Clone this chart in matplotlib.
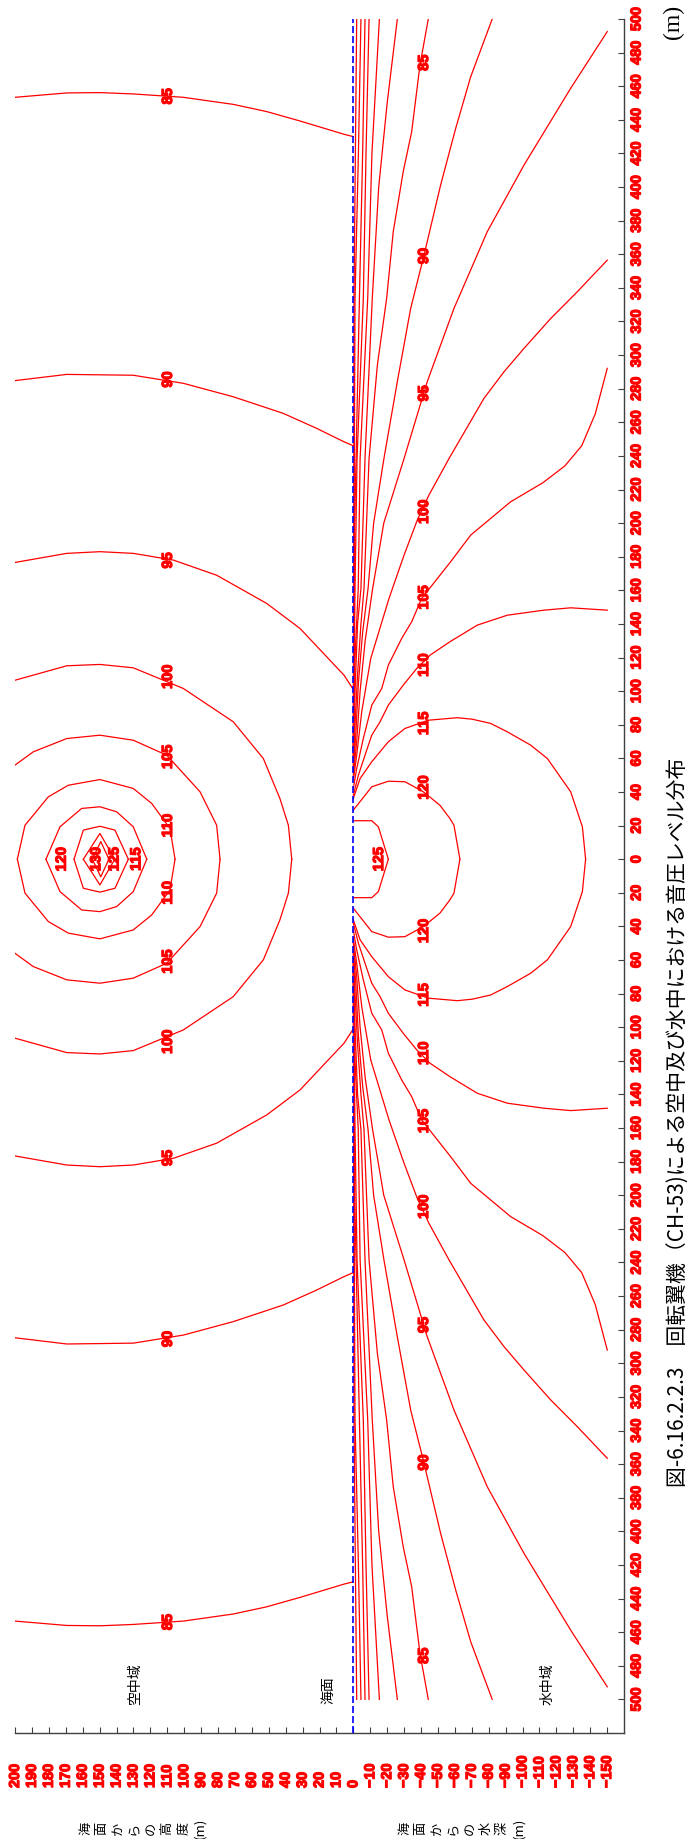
import matplotlib
matplotlib.use("Agg")
import matplotlib.pyplot as plt
import matplotlib.patheffects as pe
import numpy as np

plt.rcParams["font.family"] = ["Liberation Sans", "DejaVu Sans"]

# ---------------------------------------------------------------------------
# Sound pressure level contours, upper half (distance >= 0); the field is
# symmetric about distance 0.  h = height above sea surface (m, negative =
# water depth), d = horizontal distance from the helicopter (m).
# ---------------------------------------------------------------------------
air_levels = [85, 90, 95, 100, 105, 110, 115, 120, 125, 130]
air_h = [
    [200, 169.4, 149.8, 130.1, 100.5, 71, 51.2, 31.5, 5.5, 0.0],
    [200, 169.4, 130.1, 100.5, 71, 41.4, 21.7, 5.5, 0.0],
    [200, 169.4, 149.8, 130.1, 106.4, 80.8, 51.2, 31.5, 5.5, 0.4],
    [200, 169.4, 149.8, 130.1, 100.5, 71, 53.2, 43.4, 38.4, 36.4],
    [200, 189.2, 169.4, 149.8, 130.1, 110.3, 90.6, 80.8, 78.8],
    [198.6, 194.1, 180.3, 168.5, 149.8, 130.1, 119.2, 108.4, 105.4],
    [181.7, 173.4, 160.6, 149.8, 139.9, 130.1, 122.1],
    [165.1, 159.6, 149.8, 140.9, 133.0],
    [159.6, 149.8, 141.0],
    [154.3, 149.3, 144.5],
]
air_d = [
    [453.4, 456.0, 456.2, 455.4, 453.4, 449.2, 444.9, 439.3, 431.4, 430.0],
    [284.8, 288.5, 288.0, 283.2, 275.2, 265.3, 256.4, 248.4, 246.0],
    [176.6, 182.0, 183.0, 182.0, 178.0, 169.0, 152.2, 137.3, 109.5, 101.6],
    [106.5, 115.1, 115.9, 113.9, 101.6, 81.8, 59.9, 36.1, 20.2, 0],
    [56.0, 63.9, 71.8, 73.8, 70.8, 61.9, 40.1, 20.2, 0],
    [0, 20.2, 37.1, 44.0, 47.4, 42.1, 33.2, 18.3, 0],
    [0, 19.3, 30.2, 31.2, 28.2, 19.3, 0],
    [0, 17.3, 19.6, 17.3, 0],
    [0, 15.3, 0],
    [0, 10.5, 0],
]

water_levels = [55, 60, 65, 70, 75, 80, 85, 90, 95, 100, 105, 110, 115, 120, 125]
water_h = [
    [0, -0.4, -1.2, -2.0],
    [0, -0.6, -1.0, -3.0, -4.5],
    [0, -0.8, -3.6, -5.5, -6.9],
    [0, -1.0, -2.2, -5.9, -7.5, -9.3],
    [0, -1.0, -2.9, -4.0, -8.5, -11.0, -15.4],
    [0, -1.0, -2.5, -4.5, -6.9, -11.2, -15.0, -20.0, -26.0],
    [0, -1.0, -2.5, -4.5, -6.3, -9.3, -14.2, -19.7, -23.6, -29.5, -34.5, -39.4, -44.3],
    [0, -1.5, -3.0, -5.5, -8.7, -12.0, -18.1, -26.0, -33.9, -41.8, -51.6, -60.5, -69.4, -82.1],
    [0, -2.0, -4.0, -7.0, -11.4, -18.0, -30.0, -43.7, -59.5, -79.2, -100.9, -128.5, -150.1],
    [0, -2.0, -5.0, -10.3, -21.1, -30.0, -37.8, -44.7, -56.6, -77.2, -89.1, -100.9, -116.7, -132.4, -150.1],
    [0, -2.0, -5.9, -10.9, -16.8, -20.7, -28.6, -34.5, -40.4, -57.5, -69.4, -93.0, -112.0, -125.0, -135.0, -143.0, -150.1],
    [0, -3.0, -6.9, -10.9, -15.8, -20.7, -29.5, -37.5, -45.3, -57.1, -73.3, -91.0, -112.7, -128.5, -150.1],
    [0, -4.0, -10.9, -20.7, -30.5, -44.3, -61.5, -70.3, -81.2, -91.0, -104.8, -114.7, -128.5, -135.4, -137.3],
    [0, -10.9, -20.7, -30.5, -41.4, -51.2, -57.1, -59.5, -63.0],
    [0, -10.9, -14.8, -20.7],
]
water_d = [
    [66, 333.8, 420, 500],
    [64, 238.5, 333.8, 420, 500],
    [62, 200, 333.8, 420, 500],
    [60, 161, 238.5, 333.8, 420, 500],
    [58, 120, 161, 238.5, 333.8, 420, 500],
    [56, 100, 140, 161, 238.5, 333.8, 400, 450, 500],
    [54, 80, 110, 140, 161, 238.5, 294, 333.8, 373.5, 409.2, 433, 472.6, 500],
    [52, 75, 105, 135, 161, 200, 238.5, 284.2, 327.8, 359.5, 401.2, 434.9, 465.7, 500],
    [50, 70, 100, 130, 161, 200, 238.5, 284.2, 327.8, 373.5, 413.1, 458.8, 492.5],
    [47, 62, 88, 119.5, 155.2, 181, 201.8, 216.7, 238.5, 274.2, 290.1, 304, 321.8, 337.7, 356.5],
    [42.1, 54, 71.8, 91.7, 101.6, 115.5, 131.4, 141.3, 155.2, 177, 192.9, 212.7, 224, 234, 246, 265, 292.1],
    [38.1, 50, 61.9, 73.8, 81.8, 91.7, 103.6, 113.5, 121.4, 129.4, 139.3, 145.2, 148.2, 149.6, 148.2],
    [36.1, 48, 58, 69.9, 77.8, 82.7, 84.2, 83.3, 80.8, 75.8, 67.9, 59.9, 40.1, 19.3, 0],
    [29.2, 43.1, 46.4, 46.1, 40.1, 32.1, 24.2, 20.2, 0],
    [22.9, 22.9, 19.3, 0],
]

height_ticks = list(range(200, -151, -10))
distance_ticks = list(range(-500, 501, 20))

title = "図-6.16.2.2.3　回転翼機（CH-53)による空中及び水中における音圧レベル分布"
air_axis_chars = ["海", "面", "か", "ら", "の", "高", "度", "(m)"]
water_axis_chars = ["海", "面", "か", "ら", "の", "水", "深", "(m)"]

# contour label anchors: (level, height, distance, mirrored)
label_spots = [
    (85, 109.6, 454, True), (90, 109.6, 285.5, True), (95, 109.6, 177.8, True),
    (100, 109.6, 108.6, True), (105, 109.6, 60.9, True), (110, 109.6, 20.0, True),
    (120, 172.4, 0, False), (130, 152.0, 0, False), (125, 141.2, 0, False),
    (115, 128.3, 0, False),
    (85, -41.8, 474, True), (90, -41.8, 359, True), (95, -41.8, 277.2, True),
    (100, -41.8, 206.8, True), (105, -41.8, 155.8, True), (110, -41.8, 115.5, True),
    (115, -41.8, 80.8, True), (120, -41.8, 42.7, True), (125, -15.2, 0, False),
]

# ---------------------------------------------------------------------------
W, H = 688, 1840
fig = plt.figure(figsize=(W / 100, H / 100), dpi=100)
ax_left, ax_right, ax_top, ax_bottom = 15, 624, 20, 1734
ax = fig.add_axes([ax_left / W, 1 - ax_bottom / H,
                   (ax_right - ax_left) / W, (ax_bottom - ax_top) / H])
ax.set_xlim(200, -160)
ax.set_ylim(-520, 500)

RED = "#ff0000"
LW = 0.9
heavy = [pe.withStroke(linewidth=0.9, foreground=RED)]

def draw_half_and_mirror(hs, ds):
    hs = np.asarray(hs, float)
    ds = np.asarray(ds, float)
    ax.plot(hs, ds, color=RED, lw=LW, zorder=3, solid_joinstyle="round")
    ax.plot(hs, -ds, color=RED, lw=LW, zorder=3, solid_joinstyle="round")

for hs, ds in zip(air_h, air_d):
    draw_half_and_mirror(hs, ds)
for hs, ds in zip(water_h, water_d):
    draw_half_and_mirror(hs, ds)

# sea surface
ax.plot([0, 0], [-520, 500], color="#0000ff", lw=1.2, dashes=(4.2, 1.8), zorder=4)

for lev, h, d, mir in label_spots:
    for s in ([1, -1] if mir else [1]):
        ax.text(h, s * d, str(lev), rotation=90, ha="center", va="center",
                color=RED, fontsize=10.5, fontweight="bold", zorder=5,
                path_effects=heavy)

# axes frame: bottom (height axis) and right (distance axis) only
for side in ("top", "left"):
    ax.spines[side].set_visible(False)
for side in ("bottom", "right"):
    ax.spines[side].set_color("#404040")
    ax.spines[side].set_linewidth(1.0)

ax.set_xticks(height_ticks)
ax.tick_params(axis="x", direction="in", length=4, width=0.8, color="#404040",
               labelbottom=False)
ax.yaxis.tick_right()
ax.set_yticks(distance_ticks)
ax.set_yticklabels([str(abs(v)) for v in distance_ticks])
ax.tick_params(axis="y", direction="in", length=4, width=0.8, color="#404040",
               pad=4, labelcolor=RED, labelsize=10.4)
for lab in ax.get_yticklabels():
    lab.set_rotation(90)
    lab.set_fontweight("bold")
    lab.set_va("center")
    lab.set_ha("left")
    lab.set_path_effects(heavy)

lab_y = -(1789 - ax_bottom) / (ax_bottom - ax_top)
for v in height_ticks:
    s = str(v).replace("-", "\u2212")
    ax.text(v, lab_y, s, transform=ax.get_xaxis_transform(), rotation=90,
            ha="center", va="bottom", color=RED, fontsize=10.4,
            fontweight="bold", clip_on=False, path_effects=heavy)

cjk = ["Noto Sans CJK JP", "DejaVu Sans"]

def px(x, y):
    return x / W, 1 - y / H

for i, ch in enumerate(air_axis_chars):
    fig.text(*px(86 + 16.2 * i, 1828.5), ch, rotation=90, ha="center",
             va="center", fontsize=9.5, family=cjk)
for i, ch in enumerate(water_axis_chars):
    fig.text(*px(405 + 16.2 * i, 1828.5), ch, rotation=90, ha="center",
             va="center", fontsize=9.5, family=cjk)

fig.text(*px(135.5, 1705), "空中域", rotation=90, ha="center", va="bottom",
         fontsize=10, family=cjk)
fig.text(*px(328.5, 1704), "海面", rotation=90, ha="center", va="bottom",
         fontsize=10, family=cjk)
fig.text(*px(547.5, 1705), "水中域", rotation=90, ha="center", va="bottom",
         fontsize=10, family=cjk)

fig.text(*px(679, 1487), title, rotation=90, ha="center", va="bottom",
         fontsize=15, family=cjk)
fig.text(*px(673, 21.5), "(m)", rotation=90, ha="center", va="center",
         fontsize=17, family=["Liberation Serif", "DejaVu Serif"])

fig.savefig("out.png", dpi=100)
